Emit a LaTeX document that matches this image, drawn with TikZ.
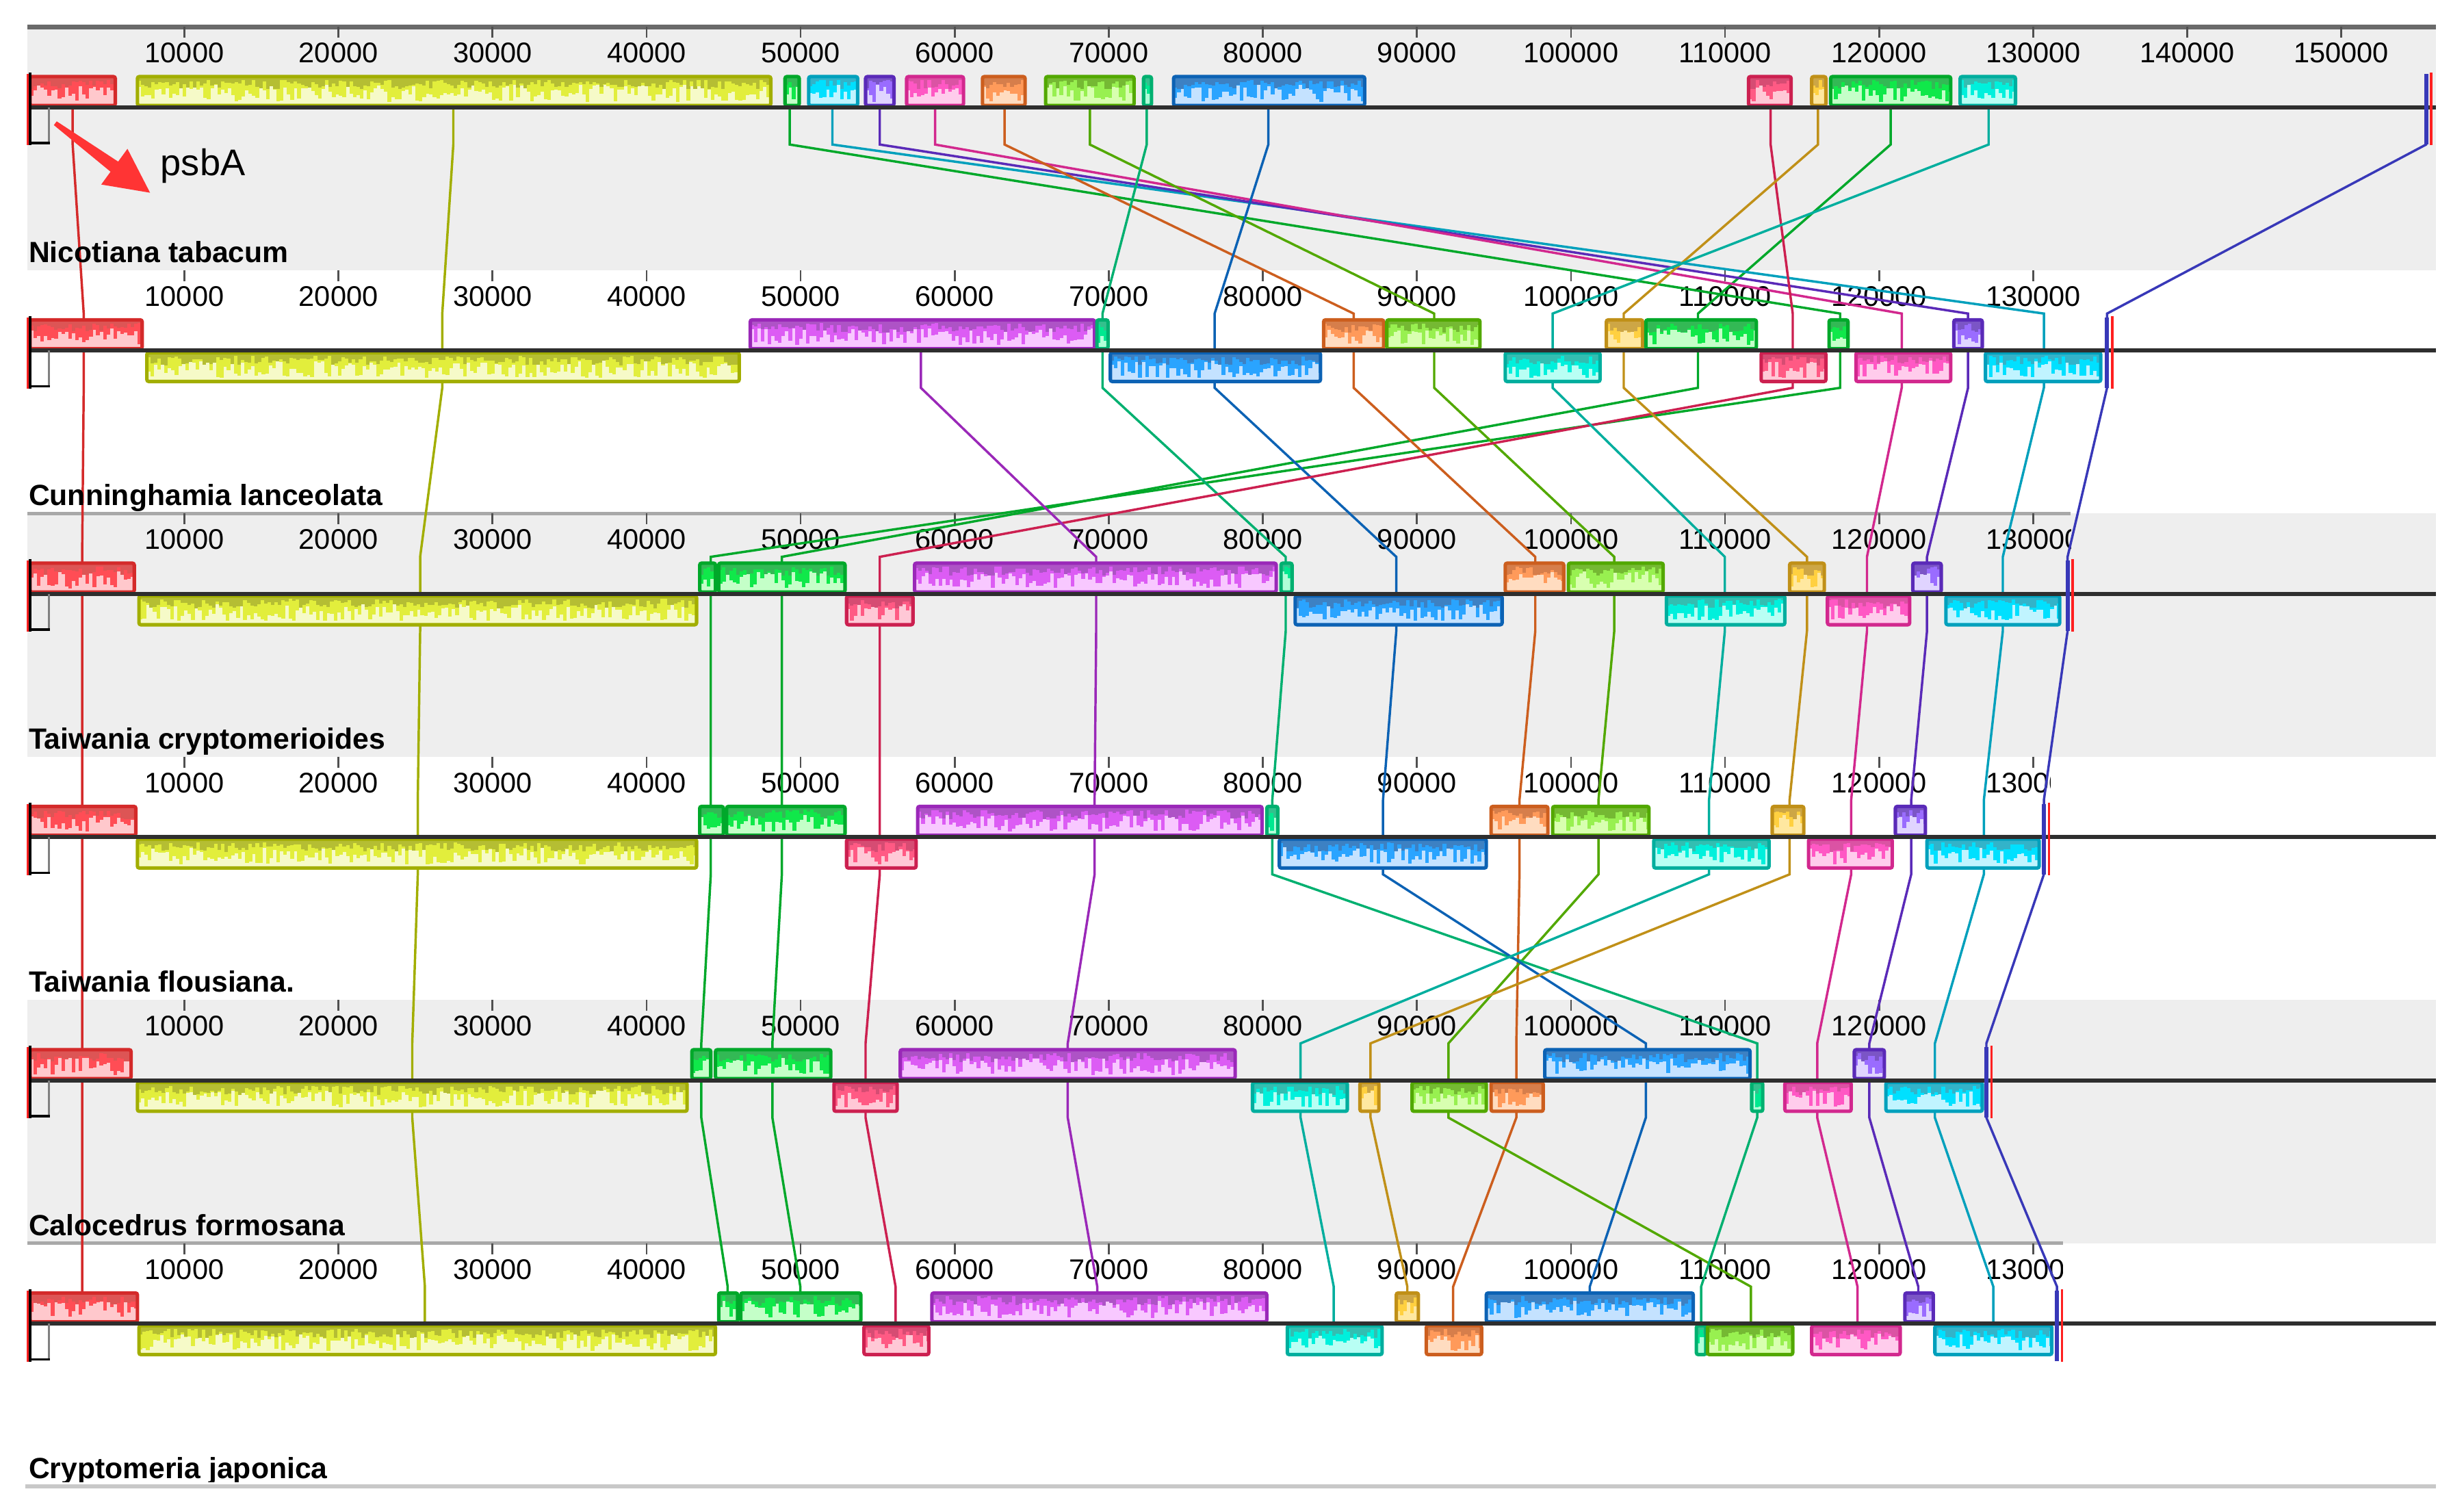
\documentclass[tikz,border=0pt]{standalone}
\usepackage{fontspec}
\setmainfont{Liberation Sans}
\definecolor{redb}{HTML}{D42A2A}\definecolor{redf}{HTML}{FFC8CC}\definecolor{redp}{HTML}{FF4D55}
\definecolor{olvb}{HTML}{A2AE00}\definecolor{olvf}{HTML}{F6FAC8}\definecolor{olvp}{HTML}{E2EE3C}
\definecolor{grnb}{HTML}{00A82A}\definecolor{grnf}{HTML}{C4FFC8}\definecolor{grnp}{HTML}{10E84A}
\definecolor{cynb}{HTML}{00A0BC}\definecolor{cynf}{HTML}{C0F4FF}\definecolor{cynp}{HTML}{00E0FF}
\definecolor{indb}{HTML}{5A2AB8}\definecolor{indf}{HTML}{E0D4FF}\definecolor{indp}{HTML}{9A6CFF}
\definecolor{pnkb}{HTML}{D2288E}\definecolor{pnkf}{HTML}{FFCCEC}\definecolor{pnkp}{HTML}{FF58C4}
\definecolor{orgb}{HTML}{CC5E1E}\definecolor{orgf}{HTML}{FFDCC0}\definecolor{orgp}{HTML}{FF9A5A}
\definecolor{lgrb}{HTML}{52A800}\definecolor{lgrf}{HTML}{D8FFB0}\definecolor{lgrp}{HTML}{98F050}
\definecolor{tgrb}{HTML}{00B070}\definecolor{tgrf}{HTML}{B0FFD8}\definecolor{tgrp}{HTML}{00E890}
\definecolor{blub}{HTML}{0C62B4}\definecolor{bluf}{HTML}{C4E2FF}\definecolor{blup}{HTML}{2AA4FF}
\definecolor{crmb}{HTML}{CC2050}\definecolor{crmf}{HTML}{FFC8D6}\definecolor{crmp}{HTML}{FF5A84}
\definecolor{gldb}{HTML}{C09018}\definecolor{gldf}{HTML}{FFE8A0}\definecolor{gldp}{HTML}{FFD040}
\definecolor{telb}{HTML}{00AE9E}\definecolor{telf}{HTML}{B8FFF4}\definecolor{telp}{HTML}{00F0DC}
\definecolor{viob}{HTML}{9A28B8}\definecolor{viof}{HTML}{F8C8FF}\definecolor{viop}{HTML}{DC5CF4}
\definecolor{endb}{HTML}{3838B8}\definecolor{endr}{HTML}{FF2020}
\definecolor{bgG}{HTML}{EEEEEE}\definecolor{rlA}{HTML}{6A6A6A}\definecolor{rlB}{HTML}{A8A8A8}
\definecolor{tickc}{HTML}{505050}\definecolor{clin}{HTML}{2E2E2E}\definecolor{arrred}{HTML}{FF3434}
\definecolor{botl}{HTML}{C8C8C8}

\newcommand\drawblk[5]{%
  \fill[#5f] (#3,#1) rectangle (#4,#2);
  \begin{scope}
    \clip (#3,#1) rectangle (#4,#2);
    \pgfmathtruncatemacro\nbars{(#4-#3)/2.2}
    \foreach \i in {0,...,\nbars}{%
      \pgfmathsetmacro\hh{5+rnd*11}%
      \pgfmathsetmacro\hd{2+rnd*6}%
      \fill[#5p] (#3+\i*2.2,#1) rectangle ++(2.3,\hh);
      \fill[#5b!80] (#3+\i*2.2,#1) rectangle ++(2.3,\hd);
    }
  \end{scope}
  \draw[#5b, line width=2.2pt, rounded corners=1.2pt] (#3,#1) rectangle (#4,#2);
}
\newcommand\ba[4]{\drawblk{#1-19.5}{#1-1.2}{#2}{#3}{#4}}
\newcommand\bb[4]{\drawblk{#1+1.2}{#1+19.5}{#2}{#3}{#4}}

\newcommand\ruler[3]{%
  \begin{scope}
    \clip (17,#1-3) rectangle (#2,#1+27);
    \foreach \k in {1,...,#3}{%
      \pgfmathsetmacro\tx{19.2+97.54*\k}
      \draw[tickc, line width=1.2pt] (\tx,#1) -- (\tx,#1+7);
      \node[lbl, anchor=base] at (\tx,#1+22.7) {\k0000};
    }
  \end{scope}}

\newcommand\chain[7]{\draw[#1, conn] (#2,68) -- (#2,91.5) -- (#3,198.5) -- (#3,245.5) -- (#4,352.5) -- (#4,399.5) -- (#5,506.5) -- (#5,553.5) -- (#6,660.5) -- (#6,707.5) -- (#7,814.5) -- (#7,838);}

\newcommand\lmark[1]{%
  \draw[gray, line width=1.4pt] (31,#1) -- (31,#1+22.5);
  \draw[black, line width=1.6pt] (19,#1+22.5) -- (31.5,#1+22.5);
  \draw[black, line width=1.6pt] (19,#1-22) -- (19,#1+24);
  \draw[endr, line width=1.3pt] (17.4,#1-21) -- (17.4,#1+24);}

\newcommand\emark[2]{%
  \draw[endb, line width=2.5pt] (#2,#1-21) -- (#2,#1+23.5);
  \draw[endr, line width=1.6pt] (#2+3.2,#1-22) -- (#2+3.2,#1+24);}

\begin{document}
\begin{tikzpicture}[x=1pt,y=-1pt,
  conn/.style={line width=1.5pt},
  lbl/.style={inner sep=0pt, font=\fontsize{18}{20}\selectfont},
  spname/.style={inner sep=0pt, anchor=base west, font=\fontsize{18.5}{21}\selectfont\bfseries}]
\useasboundingbox (0,0) rectangle (1560,948);
\pgfmathsetseed{11}

% panel backgrounds
\fill[bgG] (17.5,17) rectangle (1542,171);
\fill[bgG] (17.5,325) rectangle (1542,479);
\fill[bgG] (17.5,633) rectangle (1542,787);

% ruler lines
\draw[rlA, line width=3pt] (17.5,17) -- (1542,17);
\draw[rlB, line width=2pt] (17.5,325) -- (1311,325);
\draw[rlB, line width=2pt] (17.5,787) -- (1306,787);

% rulers
\ruler{17}{1542}{15}
\ruler{171}{1338}{13}
\ruler{325}{1311}{13}
\ruler{479}{1298}{13}
\ruler{633}{1256}{12}
\ruler{787}{1306}{13}

% connectors
\chain{redb}{46}{53}{52}{52}{52}{52}
\chain{olvb}{287}{280}{266}{264.5}{261}{269}
\chain{grnb}{500}{1165}{450}{450}{444}{460.7}
\chain{grnb}{1197}{1075}{495}{495}{489}{506.7}
\chain{cynb}{527}{1294}{1268}{1256}{1225}{1262}
\chain{indb}{557}{1246}{1220}{1210}{1183.5}{1214.5}
\chain{pnkb}{592}{1204}{1182}{1172}{1150.5}{1176}
\chain{orgb}{636}{857}{972}{962}{960}{920}
\chain{lgrb}{690}{908}{1022}{1012}{917}{1108.5}
\chain{tgrb}{726}{698}{814}{805.5}{1112.5}{1077}
\chain{blub}{803}{769}{884}{875.6}{1042}{1006.5}
\chain{crmb}{1121}{1135}{557}{557}{548}{567}
\chain{gldb}{1151}{1028}{1144}{1133}{867.7}{891}
\chain{telb}{1259}{983}{1092}{1082}{823.4}{844.4}
\draw[viob, conn] (583,222) -- (583,245.5) -- (694,352.5) -- (694,399.5) -- (693,506.5) -- (693,553.5) -- (676,660.5) -- (676,707.5) -- (694.7,814.5) -- (694.7,838);
\chain{endb}{1536}{1334}{1309}{1294}{1257.6}{1302.3}

% panel 1: Nicotiana tabacum
\ba{68}{19}{73}{red}\ba{68}{87}{488}{olv}\ba{68}{497}{506}{grn}\ba{68}{512}{543}{cyn}
\ba{68}{548}{566}{ind}\ba{68}{574}{610}{pnk}\ba{68}{622}{649}{org}\ba{68}{662}{718}{lgr}
\ba{68}{724}{729}{tgr}\ba{68}{743}{864}{blu}\ba{68}{1107}{1134}{crm}\ba{68}{1147}{1156}{gld}
\ba{68}{1159}{1235}{grn}\ba{68}{1241}{1276}{tel}
% panel 2: Cunninghamia lanceolata
\ba{222}{19}{90}{red}\bb{222}{93}{468}{olv}\ba{222}{475}{693}{vio}\ba{222}{694.5}{701.5}{tgr}
\bb{222}{703}{836}{blu}\ba{222}{838}{876}{org}\ba{222}{878}{937}{lgr}\bb{222}{953}{1013}{tel}
\ba{222}{1017}{1040}{gld}\ba{222}{1042}{1112}{grn}\bb{222}{1115}{1156}{crm}\ba{222}{1158}{1170}{grn}
\bb{222}{1175}{1235}{pnk}\ba{222}{1237}{1255}{ind}\bb{222}{1257}{1330}{cyn}
% panel 3: Taiwania cryptomerioides
\ba{376}{19}{85}{red}\bb{376}{88}{441}{olv}\ba{376}{443}{453}{grn}\ba{376}{455}{535}{grn}
\bb{376}{536}{578}{crm}\ba{376}{579}{808}{vio}\ba{376}{811}{818}{tgr}\bb{376}{820}{951}{blu}
\ba{376}{953}{990}{org}\ba{376}{993}{1053}{lgr}\bb{376}{1055}{1130}{tel}\ba{376}{1133}{1155}{gld}
\bb{376}{1157}{1209}{pnk}\ba{376}{1211}{1229}{ind}\bb{376}{1232}{1304}{cyn}
% panel 4: Taiwania flousiana
\ba{530}{19}{86}{red}\bb{530}{87}{441}{olv}\ba{530}{443}{458}{grn}\ba{530}{460}{535}{grn}
\bb{530}{536}{580}{crm}\ba{530}{581}{799}{vio}\ba{530}{802}{809}{tgr}\bb{530}{810}{941}{blu}
\ba{530}{944}{980}{org}\ba{530}{983}{1044}{lgr}\bb{530}{1047}{1120}{tel}\ba{530}{1122}{1142}{gld}
\bb{530}{1145}{1198}{pnk}\ba{530}{1200}{1219}{ind}\bb{530}{1220}{1291}{cyn}
% panel 5: Calocedrus formosana
\ba{684}{19}{83}{red}\bb{684}{87}{435}{olv}\ba{684}{438}{450}{grn}\ba{684}{453}{526}{grn}
\bb{684}{528}{568}{crm}\ba{684}{570}{782}{vio}\bb{684}{793}{853}{tel}\bb{684}{861}{873}{gld}
\bb{684}{894}{941}{lgr}\bb{684}{944}{977}{org}\ba{684}{978}{1108}{blu}\bb{684}{1109}{1116}{tgr}
\bb{684}{1130}{1172}{pnk}\ba{684}{1174}{1193}{ind}\bb{684}{1194}{1255}{cyn}
% panel 6: Cryptomeria japonica
\ba{838}{19}{87}{red}\bb{838}{88}{453}{olv}\ba{838}{455}{467}{grn}\ba{838}{469}{545}{grn}
\bb{838}{547}{588}{crm}\ba{838}{590}{802}{vio}\bb{838}{815}{875}{tel}\ba{838}{884}{898}{gld}
\bb{838}{903}{938}{org}\ba{838}{941}{1072}{blu}\bb{838}{1074}{1080}{tgr}\bb{838}{1081}{1135}{lgr}
\bb{838}{1147}{1203}{pnk}\ba{838}{1206}{1224}{ind}\bb{838}{1225}{1299}{cyn}

% genome centre lines
\foreach \L in {68,222,376,530,684,838}{\draw[clin, line width=2.6pt] (17.5,\L) -- (1542,\L);}

% start and end markers
\foreach \L in {68,222,376,530,684,838}{\lmark{\L}}
\emark{68}{1536}\emark{222}{1334}\emark{376}{1309}\emark{530}{1294}\emark{684}{1257.6}\emark{838}{1302.3}

% species names
\node[spname] (n1) at (18,166) {Nicotiana tabacum};
\node[spname] (n2) at (18,320) {Cunninghamia lanceolata};
\node[spname] (n3) at (18,474) {Taiwania cryptomerioides};
\node[spname] (n4) at (18,628) {Taiwania flousiana.};
\node[spname] (n5) at (18,782) {Calocedrus formosana};
\begin{scope}
  \clip (0,900) rectangle (1560,938);
  \node[spname] (n6) at (18,936) {Cryptomeria japonica};
\end{scope}
\draw[botl, line width=2.5pt] (16,941) -- (1542,941);

% psbA annotation
\fill[arrred] (35.9,76.8) -- (74.8,102.3) -- (80.7,94.2) -- (95,122) -- (64.1,116.8) -- (70.0,108.7) -- (34.1,79.2) -- cycle;
\node[inner sep=0pt, anchor=base west, font=\fontsize{23.5}{26}\selectfont] (psba) at (101.5,111.3) {psbA};
\end{tikzpicture}
\end{document}
